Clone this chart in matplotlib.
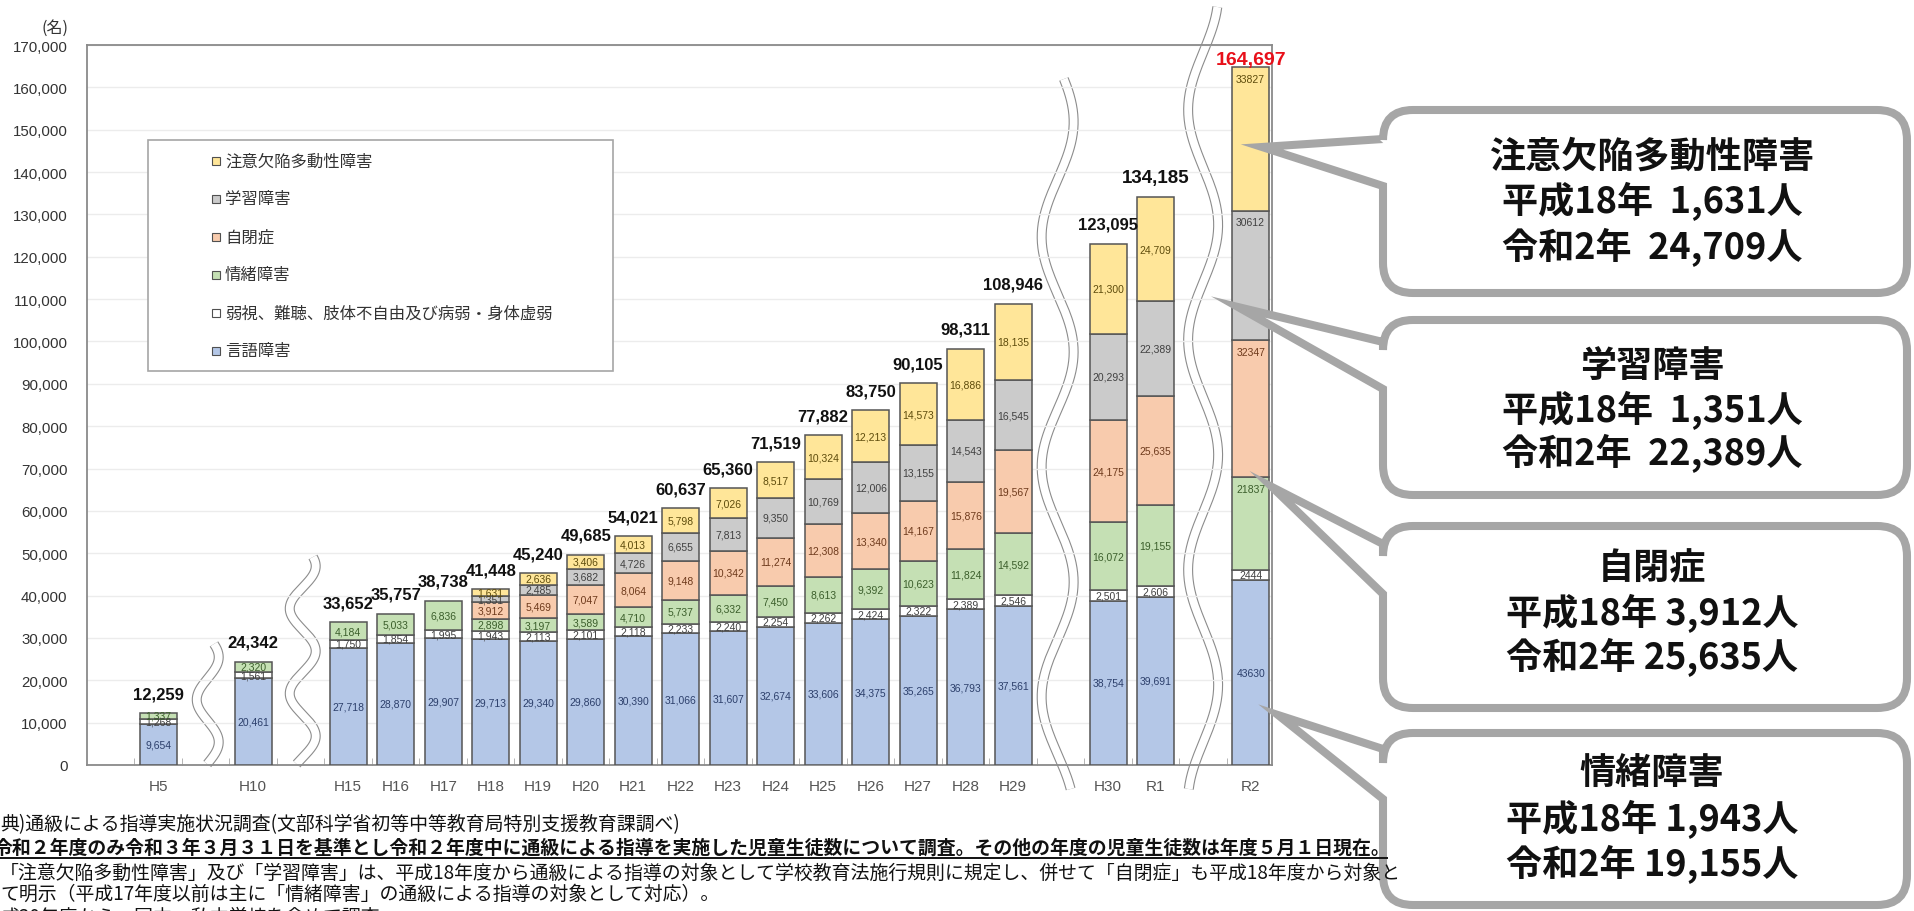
import numpy as np
import matplotlib.pyplot as plt
from matplotlib.path import Path
from matplotlib.patches import PathPatch, Rectangle

plt.rcParams['font.family'] = ['Noto Sans CJK JP', 'DejaVu Sans']
NUM_FONT = 'Liberation Sans'

# 通級による指導を受けている児童生徒数（名）
years = ['H5', 'H10', 'H15', 'H16', 'H17', 'H18', 'H19', 'H20', 'H21', 'H22',
         'H23', 'H24', 'H25', 'H26', 'H27', 'H28', 'H29', 'H30', 'R1', 'R2']
gengo = [9654, 20461, 27718, 28870, 29907, 29713, 29340, 29860, 30390, 31066,
         31607, 32674, 33606, 34375, 35265, 36793, 37561, 38754, 39691, 43630]
jakushi = [1268, 1561, 1750, 1854, 1995, 1943, 2113, 2101, 2118, 2233,
           2240, 2254, 2262, 2424, 2322, 2389, 2546, 2501, 2606, 2444]
jocho = [1337, 2320, 4184, 5033, 6836, 2898, 3197, 3589, 4710, 5737,
         6332, 7450, 8613, 9392, 10623, 11824, 14592, 16072, 19155, 21837]
jiheisho = [0, 0, 0, 0, 0, 3912, 5469, 7047, 8064, 9148,
            10342, 11274, 12308, 13340, 14167, 15876, 19567, 24175, 25635, 32347]
gakushu = [0, 0, 0, 0, 0, 1351, 2485, 3682, 4726, 6655,
           7813, 9350, 10769, 12006, 13155, 14543, 16545, 20293, 22389, 30612]
adhd = [0, 0, 0, 0, 0, 1631, 2636, 3406, 4013, 5798,
        7026, 8517, 10324, 12213, 14573, 16886, 18135, 21300, 24709, 33827]

names = ['言語障害', '弱視、難聴、肢体不自由及び病弱・身体虚弱', '情緒障害',
         '自閉症', '学習障害', '注意欠陥多動性障害']

callouts = [
    ('注意欠陥多動性障害', '平成18年  1,631人', '令和2年  24,709人'),
    ('学習障害', '平成18年  1,351人', '令和2年  22,389人'),
    ('自閉症', '平成18年 3,912人', '令和2年 25,635人'),
    ('情緒障害', '平成18年 1,943人', '令和2年 19,155人'),
]

notes = [
    '典)通級による指導実施状況調査(文部科学省初等中等教育局特別支援教育課調べ)',
    '令和２年度のみ令和３年３月３１日を基準とし令和２年度中に通級による指導を実施した児童生徒数について調査。その他の年度の児童生徒数は年度５月１日現在。',
    '「注意欠陥多動性障害」及び「学習障害」は、平成18年度から通級による指導の対象として学校教育法施行規則に規定し、併せて「自閉症」も平成18年度から対象と',
    'て明示（平成17年度以前は主に「情緒障害」の通級による指導の対象として対応）。',
    '成30年度から、国立・私立学校を含めて調査。',
]

series = [gengo, jakushi, jocho, jiheisho, gakushu, adhd]
colors = ['#b4c7e7', '#ffffff', '#c5e0b4', '#f8cbad', '#cbcbcb', '#ffe699']
txt_colors = ['#2c3f6b', '#404040', '#3b5e2b', '#6e3a1c', '#404040', '#5e4c0c']

# 年度の間に空き枠（波線）を入れる
gap_after = {'H5', 'H10', 'H29', 'R1'}
pos = []
p = 0
for y in years:
    pos.append(p)
    p += 2 if y in gap_after else 1
pos = np.array(pos)
gaps = [pos[i] + 1 for i, y in enumerate(years) if y in gap_after]

W, H = 1914, 912
fig = plt.figure(figsize=(W / 100, H / 100), dpi=100)

# 波線用（グラフの下）
back = fig.add_axes([0, 0, 1, 1], zorder=0)
back.set_xlim(0, W)
back.set_ylim(H, 0)
back.axis('off')

ax = fig.add_axes([87 / W, 1 - 766 / H, (1272 - 87) / W, 720 / H], zorder=1)
ax.patch.set_facecolor('none')

bottom = np.zeros(len(years))
for vals, col, tcol in zip(series, colors, txt_colors):
    vals = np.array(vals, dtype=float)
    m = vals > 0
    ax.bar(pos[m], vals[m], bottom=bottom[m], width=0.78, color=col,
           edgecolor='#555555', linewidth=1.1, zorder=3)
    for x, v, b, yr in zip(pos[m], vals[m], bottom[m], np.array(years)[m]):
        if yr == 'R2':
            s = '%d' % v
        else:
            s = '{:,}'.format(int(v))
        if yr == 'R2' and col in ('#c5e0b4', '#f8cbad', '#cbcbcb', '#ffe699'):
            ax.annotate(s, (x, b + v), xytext=(0, -4.5), textcoords='offset points',
                        ha='center', va='top', fontsize=7.5, color=tcol,
                        family=NUM_FONT, zorder=4)
        else:
            ax.text(x, b + v / 2, s, ha='center', va='center', fontsize=7.5,
                    color=tcol, family=NUM_FONT, zorder=4)
    bottom += vals

# 合計
for x, tot, yr in zip(pos, bottom, years):
    if yr == 'R2':
        ax.annotate('{:,}'.format(int(tot)), (x, tot), xytext=(0, 6),
                    textcoords='offset points', ha='center', va='center',
                    fontsize=14, fontweight='bold', color='#e8101a',
                    family=NUM_FONT, zorder=6)
    else:
        ax.annotate('{:,}'.format(int(tot)), (x, tot), xytext=(0, 14),
                    textcoords='offset points', ha='center', va='center',
                    fontsize=13.5 if yr == 'R1' else 12, fontweight='bold',
                    color='#111111', family=NUM_FONT, zorder=6)

ax.set_xlim(-1.5, 23.45)
ax.set_ylim(0, 170000)
ax.set_yticks(range(0, 170001, 10000))
ax.set_yticklabels(['{:,}'.format(v) for v in range(0, 170001, 10000)],
                   family=NUM_FONT, fontsize=10.8, color='#333333')
ax.set_xticks(pos)
ax.set_xticklabels(years, family=NUM_FONT, fontsize=11, color='#555555')
ax.set_xticks(np.arange(-0.5, 23.5, 1), minor=True)
ax.tick_params(axis='y', length=0, pad=14)
ax.tick_params(axis='x', which='major', length=0, pad=10)
ax.tick_params(axis='x', which='minor', direction='in', length=5, color='#a8a8a8')
ax.yaxis.grid(True, color='#ececec', linewidth=1)
ax.set_axisbelow(True)
for sp in ax.spines.values():
    sp.set_color('#8a8a8a')
    sp.set_linewidth(1.3)

# 波線（省略記号）
def wave(cx, y0, y1, amp, period, phase=0.0):
    yy = np.linspace(y0, y1, 300)
    xx = cx + amp * np.sin(2 * np.pi * (yy - y0) / period + phase)
    back.plot(xx, yy, color='#8c8c8c', linewidth=7.2, solid_capstyle='butt')
    back.plot(xx, yy, color='white', linewidth=5.6, solid_capstyle='butt')

def to_px(xd):
    return ax.transData.transform((xd, 0))[0]

wave(to_px(gaps[0]) + 2, 645, 765, 11, 85, 0.6)
wave(to_px(gaps[1]) + 2, 558, 765, 13, 85, 0.9)
wave(to_px(gaps[2]) - 3, 80, 790, 16, 230, 0.4)
wave(to_px(gaps[3]), 8, 790, 15, 230, 1.9)

# 凡例・吹き出し・注記（前面）
ov = fig.add_axes([0, 0, 1, 1], zorder=5)
ov.set_xlim(0, W)
ov.set_ylim(H, 0)
ov.axis('off')
ov.patch.set_visible(False)

ov.text(55, 28, '(名)', ha='center', va='center', fontsize=11.5, color='#333333')

ov.add_patch(Rectangle((148, 141), 613 - 148, 372 - 141, facecolor='white',
                       edgecolor='#a6a6a6', linewidth=1.2))
for i, (nm, col) in enumerate(zip(names[::-1], colors[::-1])):
    yy = 162 + i * 38
    ov.add_patch(Rectangle((212, yy - 4), 8, 8, facecolor=col,
                           edgecolor='#505050', linewidth=0.8))
    ov.text(225, yy, nm, ha='left', va='center', fontsize=11.8, color='#333333')

def bubble(x0, y0, x1, y1, r, ya, yb, tip):
    verts = [(x0 + r, y0), (x1 - r, y0), (x1, y0), (x1, y0 + r), (x1, y1 - r),
             (x1, y1), (x1 - r, y1), (x0 + r, y1), (x0, y1), (x0, y1 - r),
             (x0, yb), tip, (x0, ya), (x0, y0 + r), (x0, y0), (x0 + r, y0),
             (x0 + r, y0)]
    codes = [Path.MOVETO, Path.LINETO, Path.CURVE3, Path.CURVE3, Path.LINETO,
             Path.CURVE3, Path.CURVE3, Path.LINETO, Path.CURVE3, Path.CURVE3,
             Path.LINETO, Path.LINETO, Path.LINETO, Path.LINETO, Path.CURVE3,
             Path.CURVE3, Path.CLOSEPOLY]
    ov.add_patch(PathPatch(Path(verts, codes), facecolor='white',
                           edgecolor='#a6a6a6', linewidth=5.8, joinstyle='miter'))

boxes = [(111, 294, 140, 187, (1262, 148)),
         (321, 496, 343, 390, (1238, 308)),
         (527, 709, 545, 595, (1272, 488)),
         (734, 906, 750, 800, (1278, 716))]
line_y = [(157, 201, 247), (367, 410, 453), (569, 613, 657), (774, 819, 864)]
for (y0, y1, ya, yb, tip), lines, ly in zip(boxes, callouts, line_y):
    bubble(1383, y0, 1907, y1, 30, ya, yb, tip)
    for s, yy in zip(lines, ly):
        ov.text(1652, yy, s, ha='center', va='center', fontsize=26,
                fontweight='bold', color='#111111')

note_y = [825, 848, 873, 894, 917]
for i, (s, yy) in enumerate(zip(notes, note_y)):
    ov.text(-6 if i == 1 else 0, yy, s, ha='left', va='center',
            fontsize=13.6, fontweight='bold' if i == 1 else 'normal',
            color='#111111')
ov.plot([0, 1387], [859, 859], color='#111111', linewidth=1.4)

fig.savefig('out.png', dpi=100)
